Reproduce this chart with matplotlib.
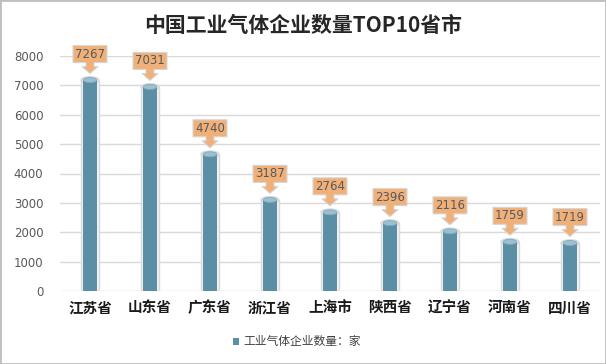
import matplotlib
matplotlib.use("Agg")
import matplotlib.pyplot as plt
from matplotlib.patches import Ellipse, Polygon, Rectangle
from matplotlib.transforms import IdentityTransform

plt.rcParams['font.family'] = ['Noto Sans CJK SC', 'DejaVu Sans']

categories = ["江苏省", "山东省", "广东省", "浙江省", "上海市", "陕西省", "辽宁省", "河南省", "四川省"]
values = [7267, 7031, 4740, 3187, 2764, 2396, 2116, 1759, 1719]
yticks = [0, 1000, 2000, 3000, 4000, 5000, 6000, 7000, 8000]
title = "中国工业气体企业数量TOP10省市"
legend_label = "工业气体企业数量：家"

W, H = 606, 364
dpi = 100
fig = plt.figure(figsize=(W / dpi, H / dpi), dpi=dpi)
fig.patch.set_facecolor("white")
fig.patches.append(Rectangle((0, 0), 1, 1, transform=fig.transFigure, fill=False,
                             edgecolor="#bfbfbf", linewidth=2))

ax = fig.add_axes([60 / W, 1 - 291 / H, 540 / W, (291 - 56) / H])
ax.set_xlim(-0.5, len(categories) - 0.5)
ax.set_ylim(0, 8000)
for s in ax.spines.values():
    s.set_visible(False)
ax.set_yticks(yticks)
ax.set_yticklabels([str(t) for t in yticks], color="#595959", fontsize=8.5,
                   family=["DejaVu Sans"])
ax.tick_params(axis="y", length=0, pad=12)
ax.grid(axis="y", color="#d9d9d9", linewidth=1)
ax.set_axisbelow(True)
ax.set_xticks(range(len(categories)))
ax.set_xticklabels(categories, fontsize=10.5, fontweight="bold", color="#1a1a1a")
ax.tick_params(axis="x", length=0, pad=6)

bw = 0.23
ell_h = 170
for i, v in enumerate(values):
    # outline / glass
    ax.bar(i, v - ell_h / 2, width=bw + 0.07, color="#f2f2f2", edgecolor="#d9d9d9",
           linewidth=1, zorder=2)
    ax.add_patch(Ellipse((i, v - ell_h / 2), bw + 0.07, ell_h * 1.3, facecolor="#f2f2f2",
                         edgecolor="#d9d9d9", linewidth=1, zorder=2))
    ax.bar(i, v - ell_h / 2, width=bw, color="#5b8fa6", edgecolor="none", zorder=3,
           label=legend_label if i == 0 else None)
    ax.add_patch(Ellipse((i, v - ell_h / 2), bw, ell_h, facecolor="#9dc0d0",
                         edgecolor="#7fa9bc", linewidth=0.6, zorder=4))
    ax.add_patch(Ellipse((i, 60), bw, ell_h, facecolor="#5b8fa6", edgecolor="none", zorder=3))

fig.canvas.draw()
for i, v in enumerate(values):
    x0, y0 = ax.transData.transform((i, v))
    ty = y0 + 4
    pts = [(0, 0), (-8, 7), (-4, 7), (-4, 11), (-17, 11), (-17, 28), (17, 28), (17, 11),
           (4, 11), (4, 7), (8, 7)]
    poly = Polygon([(x0 + px, ty + py) for px, py in pts], closed=True,
                   transform=IdentityTransform(), facecolor="#f0b07a", edgecolor="#d6d6d6",
                   linewidth=0.8, zorder=6)
    fig.patches.append(poly)
    fig.text(x0 / W, (ty + 19.5) / H, str(v), ha="center", va="center", fontsize=8.5,
             color="#595959", family=["DejaVu Sans"], zorder=7)

fig.text(0.5, 1 - 26 / H, title, ha="center", va="center", fontsize=15, fontweight="bold",
         color="#262626")

fig.patches.append(Rectangle((233 / W, 1 - 345 / H), 6 / W, 7 / H, transform=fig.transFigure,
                             facecolor="#5b8fa6", edgecolor="none"))
fig.text(243 / W, 1 - 341 / H, legend_label, ha="left", va="center", fontsize=8.5,
         color="#404040")

fig.savefig("out.png", dpi=dpi, facecolor="white")
